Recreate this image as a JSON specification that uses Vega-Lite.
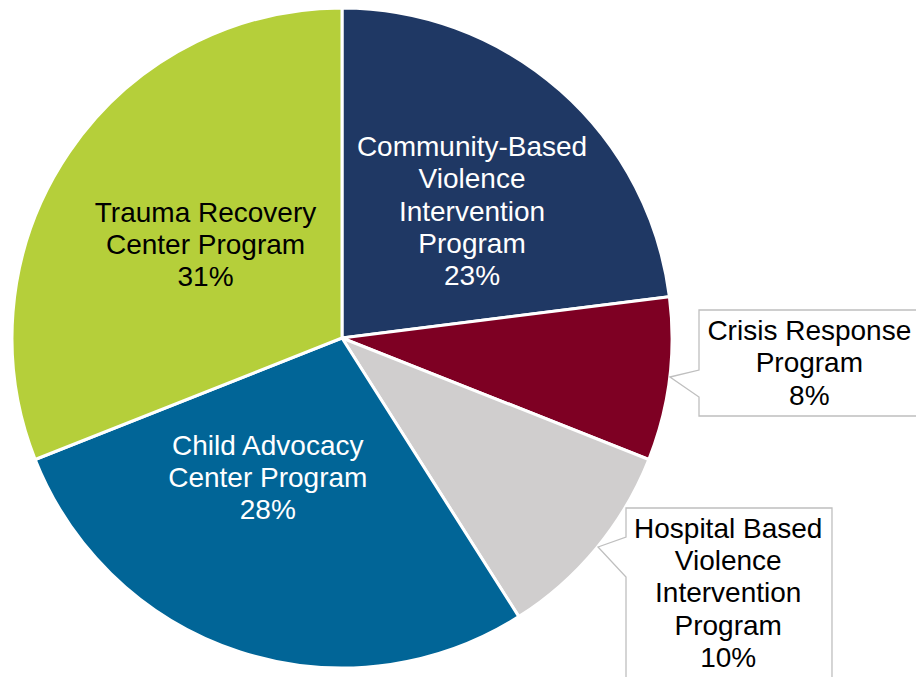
{
  "$schema": "https://vega.github.io/schema/vega-lite/v6.json",
  "width": 684,
  "height": 676,
  "autosize": "none",
  "padding": {"left": 0, "top": 0, "right": 232, "bottom": 1},
  "background": "white",
  "config": {"view": {"stroke": null}},
  "datasets": {
    "slices": [
      {"program": "Community-Based Violence Intervention Program", "share": 23, "order": 1, "label": "Community-Based\nViolence\nIntervention\nProgram\n23%"},
      {"program": "Crisis Response Program", "share": 8, "order": 2, "label": "Crisis Response\nProgram\n8%"},
      {"program": "Hospital Based Violence Intervention Program", "share": 10, "order": 3, "label": "Hospital Based\nViolence\nIntervention\nProgram\n10%"},
      {"program": "Child Advocacy Center Program", "share": 28, "order": 4, "label": "Child Advocacy\nCenter Program\n28%"},
      {"program": "Trauma Recovery Center Program", "share": 31, "order": 5, "label": "Trauma Recovery\nCenter Program\n31%"}
    ],
    "callouts": [
      {"callout": "Crisis", "i": 1, "u": 0.9939, "v": -0.1182},
      {"callout": "Crisis", "i": 2, "u": 1.0818, "v": -0.0970},
      {"callout": "Crisis", "i": 3, "u": 1.0818, "v": 0.0848},
      {"callout": "Crisis", "i": 4, "u": 1.7667, "v": 0.0848},
      {"callout": "Crisis", "i": 5, "u": 1.7667, "v": -0.2364},
      {"callout": "Crisis", "i": 6, "u": 1.0818, "v": -0.2364},
      {"callout": "Crisis", "i": 7, "u": 1.0818, "v": -0.1788},
      {"callout": "Hospital", "i": 1, "u": 0.7758, "v": -0.6333},
      {"callout": "Hospital", "i": 2, "u": 0.8606, "v": -0.6030},
      {"callout": "Hospital", "i": 3, "u": 0.8606, "v": -0.5152},
      {"callout": "Hospital", "i": 4, "u": 1.4848, "v": -0.5152},
      {"callout": "Hospital", "i": 5, "u": 1.4848, "v": -1.0970},
      {"callout": "Hospital", "i": 6, "u": 0.8606, "v": -1.0970},
      {"callout": "Hospital", "i": 7, "u": 0.8606, "v": -0.7242}
    ]
  },
  "layer": [
    {
      "data": {"name": "slices"},
      "mark": {"type": "arc", "outerRadius": 330, "stroke": "white", "strokeWidth": 3},
      "encoding": {
        "theta": {"field": "share", "type": "quantitative", "stack": true},
        "order": {"field": "order", "type": "quantitative"},
        "color": {
          "field": "program",
          "type": "nominal",
          "scale": {
            "domain": ["Community-Based Violence Intervention Program", "Crisis Response Program", "Hospital Based Violence Intervention Program", "Child Advocacy Center Program", "Trauma Recovery Center Program"],
            "range": ["#1f3864", "#7e0023", "#d0cece", "#016597", "#b5cf3a"]
          },
          "legend": null
        }
      }
    },
    {
      "data": {"name": "callouts"},
      "mark": {"type": "line", "interpolate": "linear-closed", "stroke": "#bfbfbf", "strokeWidth": 1.3, "fill": "white"},
      "encoding": {
        "x": {"field": "u", "type": "quantitative", "scale": {"domain": [-1.03636, 1.03636], "nice": false, "zero": false}, "axis": null},
        "y": {"field": "v", "type": "quantitative", "scale": {"domain": [-1.02424, 1.02424], "nice": false, "zero": false}, "axis": null},
        "order": {"field": "i", "type": "quantitative"},
        "detail": {"field": "callout", "type": "nominal"}
      }
    },
    {
      "data": {"name": "slices"},
      "mark": {"type": "text", "radius": 180, "dx": 11, "dy": -55, "fill": "white", "font": "Liberation Sans", "fontSize": 28, "lineHeight": 32.3, "lineBreak": "\n", "align": "center", "baseline": "middle"},
      "encoding": {
        "theta": {"field": "share", "type": "quantitative", "stack": true},
        "order": {"field": "order", "type": "quantitative"},
        "detail": {"field": "program", "type": "nominal"},
        "text": {"field": "label", "type": "nominal"},
        "opacity": {"condition": {"test": "datum.order === 1", "value": 1}, "value": 0}
      }
    },
    {
      "data": {"name": "slices"},
      "mark": {"type": "text", "radius": 467, "dx": 4, "dy": -64.5, "fill": "black", "font": "Liberation Sans", "fontSize": 28, "lineHeight": 32.3, "lineBreak": "\n", "align": "center", "baseline": "middle"},
      "encoding": {
        "theta": {"field": "share", "type": "quantitative", "stack": true},
        "order": {"field": "order", "type": "quantitative"},
        "detail": {"field": "program", "type": "nominal"},
        "text": {"field": "label", "type": "nominal"},
        "opacity": {"condition": {"test": "datum.order === 2", "value": 1}, "value": 0}
      }
    },
    {
      "data": {"name": "slices"},
      "mark": {"type": "text", "radius": 461, "dx": 31, "dy": -102, "fill": "black", "font": "Liberation Sans", "fontSize": 28, "lineHeight": 32.3, "lineBreak": "\n", "align": "center", "baseline": "middle"},
      "encoding": {
        "theta": {"field": "share", "type": "quantitative", "stack": true},
        "order": {"field": "order", "type": "quantitative"},
        "detail": {"field": "program", "type": "nominal"},
        "text": {"field": "label", "type": "nominal"},
        "opacity": {"condition": {"test": "datum.order === 3", "value": 1}, "value": 0}
      }
    },
    {
      "data": {"name": "slices"},
      "mark": {"type": "text", "radius": 156, "dx": -26, "dy": -39.5, "fill": "white", "font": "Liberation Sans", "fontSize": 28, "lineHeight": 32.3, "lineBreak": "\n", "align": "center", "baseline": "middle"},
      "encoding": {
        "theta": {"field": "share", "type": "quantitative", "stack": true},
        "order": {"field": "order", "type": "quantitative"},
        "detail": {"field": "program", "type": "nominal"},
        "text": {"field": "label", "type": "nominal"},
        "opacity": {"condition": {"test": "datum.order === 4", "value": 1}, "value": 0}
      }
    },
    {
      "data": {"name": "slices"},
      "mark": {"type": "text", "radius": 165, "dx": 0, "dy": -31.5, "fill": "black", "font": "Liberation Sans", "fontSize": 28, "lineHeight": 32.3, "lineBreak": "\n", "align": "center", "baseline": "middle"},
      "encoding": {
        "theta": {"field": "share", "type": "quantitative", "stack": true},
        "order": {"field": "order", "type": "quantitative"},
        "detail": {"field": "program", "type": "nominal"},
        "text": {"field": "label", "type": "nominal"},
        "opacity": {"condition": {"test": "datum.order === 5", "value": 1}, "value": 0}
      }
    }
  ]
}
